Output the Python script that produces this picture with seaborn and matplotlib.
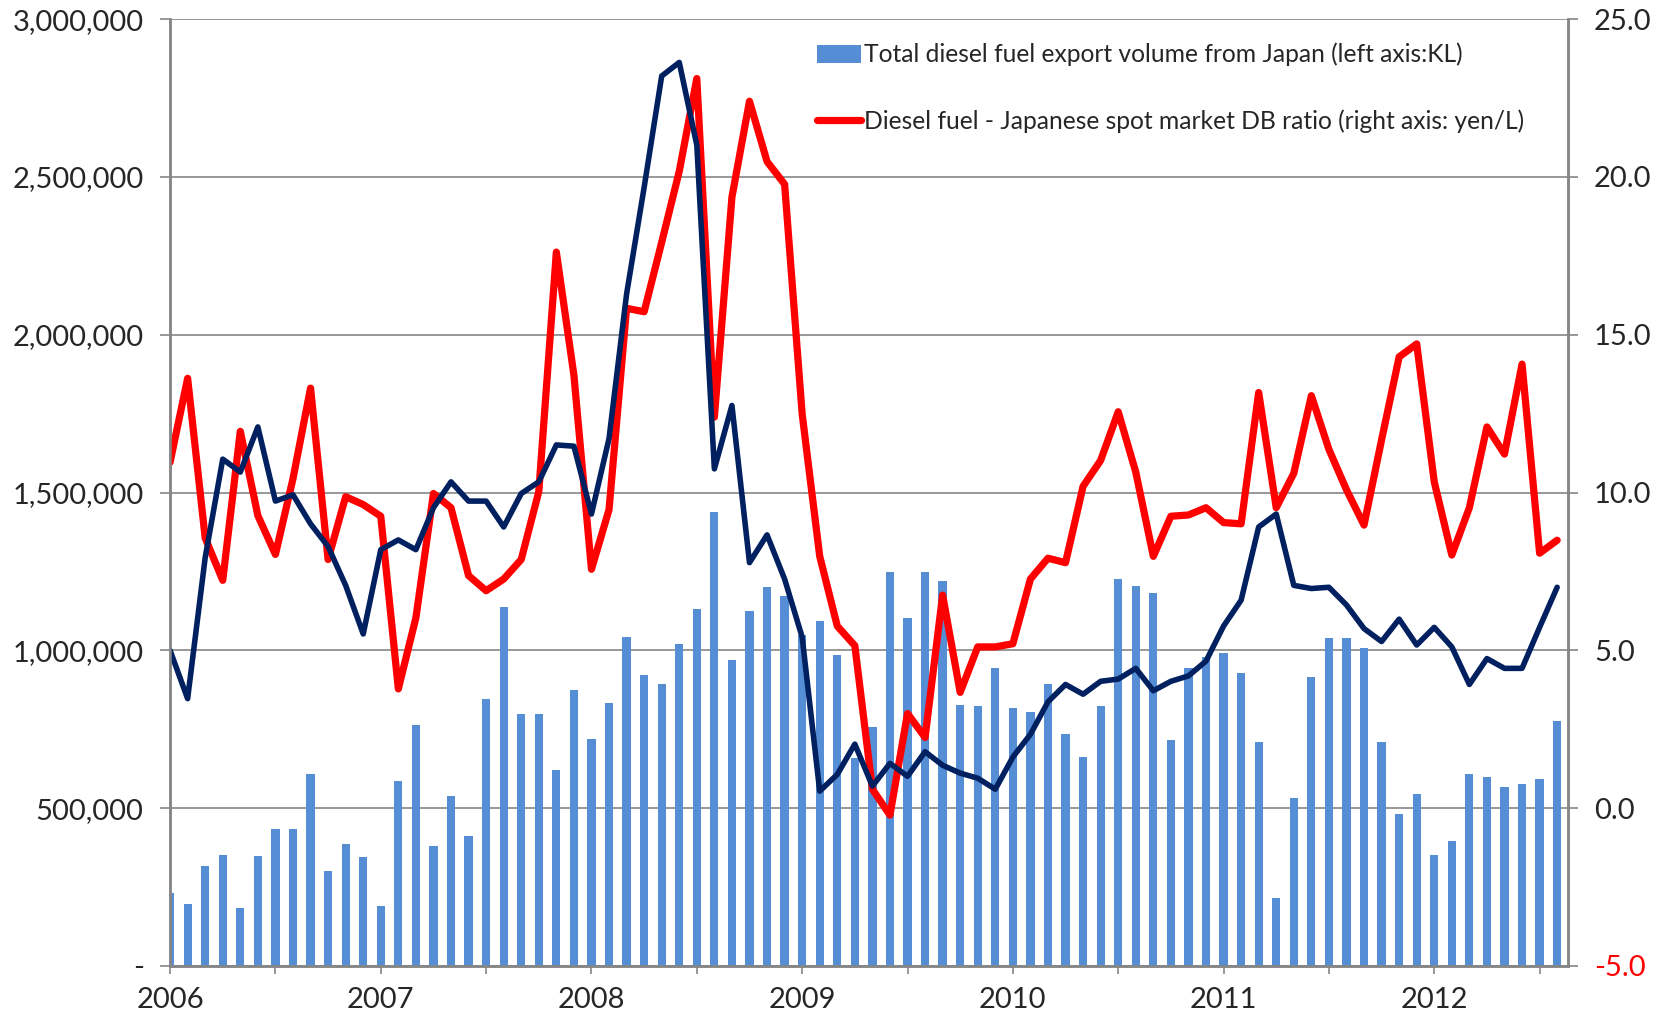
import matplotlib
matplotlib.use("Agg")
import matplotlib.pyplot as plt
import seaborn as sns
from matplotlib.patches import Patch
from matplotlib.lines import Line2D

# monthly data, Jan 2006 .. Aug 2012 (80 months)
month_idx = list(range(80))
year_labels = ['2006', '2007', '2008', '2009', '2010', '2011', '2012']

# total diesel fuel export volume from Japan (KL, left axis)
export_kl = [
    231700, 194800, 317900, 352700, 184600, 348600, 434800, 434800, 609100, 299400, 385600, 344500,
    188700, 586500, 762900, 381500, 539400, 412200, 844900, 1136200, 799800, 799800, 619400, 873700,
    719900, 832600, 1043900, 922900, 892100, 1019300, 1130000, 1439700, 970100, 1125900, 1199800, 1173100,
    1048000, 1093100, 986500, 658300, 758800, 1246900, 1103400, 1246900, 1220300, 826500, 822400, 945500,
    816200, 806000, 892100, 736300, 662400, 822400, 1226400, 1203800, 1183300, 715700, 945400, 980300,
    990600, 927000, 709600, 215300, 533200, 916700, 1037700, 1037700, 1009000, 709600, 482000, 543500,
    352700, 395800, 609100, 598800, 566000, 576300, 592700, 775200,
]

# diesel fuel - Japanese spot market DB ratio (yen/L, right axis)
db_ratio = [
    10.96, 13.62, 8.56, 7.22, 11.94, 9.27, 8.04, 10.44, 13.31, 7.88, 9.87, 9.62,
    9.25, 3.78, 6.03, 9.97, 9.52, 7.37, 6.89, 7.26, 7.88, 10.03, 17.62, 13.72,
    7.57, 9.46, 15.84, 15.73, 17.93, 20.18, 23.12, 12.39, 19.36, 22.40, 20.49, 19.77,
    12.49, 7.98, 5.77, 5.15, 0.60, -0.22, 3.00, 2.24, 6.75, 3.67, 5.11, 5.11,
    5.21, 7.26, 7.92, 7.78, 10.20, 11.02, 12.56, 10.65, 7.98, 9.25, 9.29, 9.52,
    9.05, 9.01, 13.17, 9.52, 10.61, 13.07, 11.37, 10.09, 8.97, 11.67, 14.30, 14.71,
    10.34, 8.02, 9.52, 12.08, 11.22, 14.07, 8.08, 8.49,
]

# unlabelled dark navy series (read against right axis)
navy_series = [
    5.00, 3.47, 7.94, 11.06, 10.65, 12.08, 9.73, 9.93, 9.01, 8.29, 7.06, 5.52,
    8.19, 8.50, 8.19, 9.52, 10.34, 9.73, 9.73, 8.91, 9.97, 10.34, 11.51, 11.47,
    9.32, 11.71, 16.29, 19.67, 23.20, 23.63, 21.01, 10.75, 12.76, 7.78, 8.66, 7.26,
    5.42, 0.54, 1.07, 2.03, 0.70, 1.42, 1.01, 1.79, 1.36, 1.11, 0.95, 0.60,
    1.62, 2.34, 3.37, 3.92, 3.61, 4.02, 4.09, 4.43, 3.72, 4.02, 4.19, 4.66,
    5.77, 6.59, 8.91, 9.32, 7.06, 6.96, 7.00, 6.44, 5.69, 5.28, 5.99, 5.17,
    5.73, 5.11, 3.92, 4.74, 4.43, 4.43, 5.73, 7.00,
]

bar_label = 'Total diesel fuel export volume from Japan (left axis:KL)'
line_label = 'Diesel fuel - Japanese spot market DB ratio (right axis: yen/L)'

sns.set_style("white")
plt.rcParams['font.family'] = ['Lato', 'DejaVu Sans']

grid_col = '#868686'
bar_col = '#558ED5'
fig = plt.figure(figsize=(16.69, 10.15), dpi=100)
ax = fig.add_axes([0.1019, 0.0483, 0.9393 - 0.1019, 0.9811 - 0.0483])

sns.barplot(x=month_idx, y=export_kl, native_scale=True, width=0.47, color=bar_col,
            saturation=1, errorbar=None, edgecolor='none', ax=ax, zorder=2)
ax.set_ylim(0, 3000000)
ax.set_xlim(0, 79.6)
ax.set_yticks(range(0, 3000001, 500000))
ax.set_yticklabels(['-' if v == 0 else f'{v:,}' for v in range(0, 3000001, 500000)])
ax.yaxis.grid(True, color=grid_col, lw=1.2, zorder=0)
ax.set_axisbelow(True)
ax.set_xticks(range(0, 80, 6), minor=False)
ax.set_xticklabels([year_labels[i // 12] if i % 12 == 0 else '' for i in range(0, 80, 6)])
ax.set_xlabel('')
ax.set_ylabel('')
ax.tick_params(axis='y', length=7, width=1.2, color=grid_col, pad=12, labelsize=21, left=True)
ax.tick_params(axis='x', length=6, width=1.2, color=grid_col, pad=9, labelsize=21, bottom=True)

ax2 = ax.twinx()
sns.lineplot(x=month_idx, y=db_ratio, color='#FF0000', lw=5.2, ax=ax2,
             solid_joinstyle='round', solid_capstyle='round')
sns.lineplot(x=month_idx, y=navy_series, color='#002060', lw=4.0, ax=ax2,
             solid_joinstyle='round', solid_capstyle='round')
ax2.set_ylim(-5, 25)
ax2.set_yticks(range(-5, 26, 5))
ax2.set_yticklabels([f'{v:.1f}' for v in range(-5, 26, 5)])
ax2.get_yticklabels()[0].set_color('#FF0000')
ax2.set_ylabel('')
ax2.tick_params(axis='y', length=7, width=1.2, color=grid_col, pad=12, labelsize=21, right=True)
ax2.set_xlim(0, 79.6)

for a in (ax, ax2):
    a.spines['top'].set_visible(False)
    for s in ('left', 'right', 'bottom'):
        a.spines[s].set_color(grid_col)
        a.spines[s].set_linewidth(1.8)

handles = [Patch(facecolor=bar_col, edgecolor='none'),
           Line2D([0], [0], color='#FF0000', lw=5.2, solid_capstyle='round')]
ax2.legend(handles, [bar_label, line_label], loc='upper left', bbox_to_anchor=(0.454, 0.988),
           frameon=False, fontsize=17.7, borderpad=0, labelspacing=1.75, handlelength=1.8,
           handleheight=0.75, handletextpad=0.12)

plt.savefig('out.png', dpi=100)
